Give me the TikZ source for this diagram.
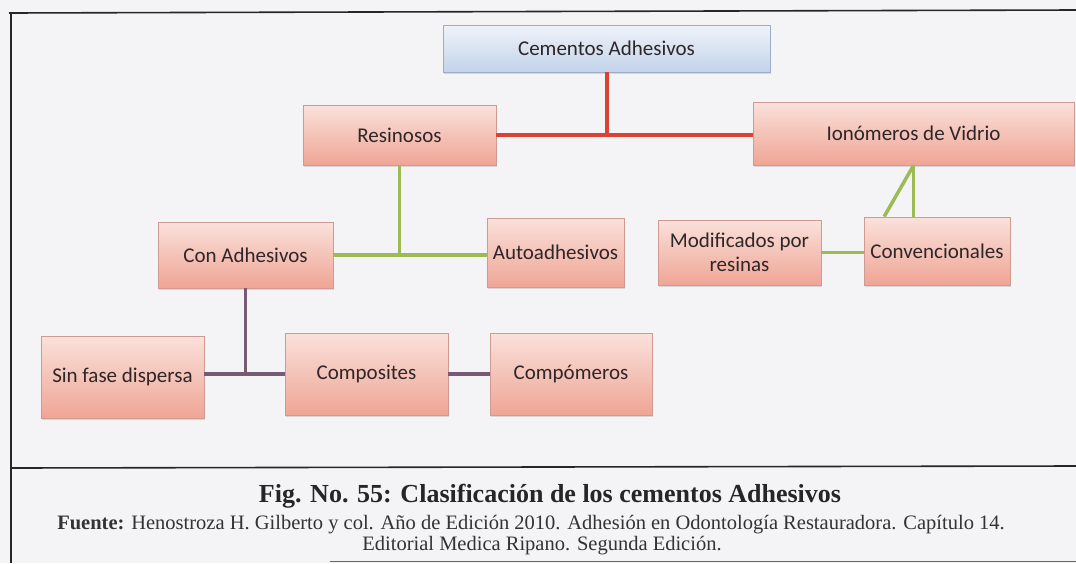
\documentclass[tikz,border=0pt]{standalone}
\usepackage{fontspec}
\setmainfont{Liberation Serif}
\newfontfamily\cajafont{Carlito}
\usetikzlibrary{calc, shadows, positioning}

\definecolor{rosaA}{HTML}{FAE1DB}
\definecolor{rosaB}{HTML}{EFA595}
\definecolor{rosaBorde}{HTML}{CF9A92}
\definecolor{azulA}{HTML}{EFF3F9}
\definecolor{azulB}{HTML}{C3D3EA}
\definecolor{azulBorde}{HTML}{9CAEC6}
\definecolor{rojoLinea}{HTML}{DA4236}
\definecolor{verdeLinea}{HTML}{9DBB55}
\definecolor{moradoLinea}{HTML}{785A72}
\definecolor{fondo}{HTML}{F4F4F7}
\definecolor{texto}{HTML}{2E2628}

\tikzset{
  caja/.style = {draw=rosaBorde, line width=0.8pt, top color=rosaA, bottom color=rosaB,
    text=texto, inner sep=2pt, align=center,
    font=\cajafont\fontsize{21}{24}\selectfont,
    drop shadow={opacity=0.25, shadow xshift=1pt, shadow yshift=-1.5pt}},
  raiz/.style = {caja, draw=azulBorde, top color=azulA, bottom color=azulB},
  rojo/.style = {draw=rojoLinea, line width=4pt},
  verde/.style = {draw=verdeLinea, line width=3.5pt},
  morado/.style = {draw=moradoLinea, line width=3.5pt},
  marco/.style = {draw=black!85, line width=1.6pt}
}

\begin{document}
\begin{tikzpicture}[x=1pt, y=-1pt]
\useasboundingbox[fill=fondo] (0,0) rectangle (1076,563);

% marco de la figura
\draw[marco] (9,13) -- (1076,10);
\draw[marco] (11,12) -- (11,563);
\draw[marco] (11,468) -- (1076,466);
\draw[marco, line width=1pt, black!60] (330,561) -- (1076,561);

% cajas
\node[raiz, minimum width=327pt, minimum height=47pt] (cem) at (606.5,48.5) {Cementos Adhesivos};
\node[caja, minimum width=193pt, minimum height=60pt] (res) at (399.5,135) {Resinosos};
\node[caja, minimum width=321pt, minimum height=63pt] (ion) at (913.5,133.5) {Ionómeros de Vidrio};
\node[caja, minimum width=175pt, minimum height=66pt] (con) at (245.5,255) {Con Adhesivos};
\node[caja, minimum width=137pt, minimum height=69pt] (auto) at (555.5,252.5) {Autoadhesivos};
\node[caja, minimum width=163pt, minimum height=65pt] (mod) at (739.5,252.5) {Modificados por\\resinas};
\node[caja, minimum width=146pt, minimum height=68pt] (conv) at (937,251) {Convencionales};
\node[caja, minimum width=163pt, minimum height=82pt] (sin) at (122.5,377) {Sin fase dispersa};
\node[caja, minimum width=163pt, minimum height=82pt] (comp) at (366.5,374) {Composites};
\node[caja, minimum width=162pt, minimum height=82pt] (compo) at (571,374) {Compómeros};

\coordinate (convtop) at ($(conv.north west)!0.14!(conv.north east)$);

% conectores
\draw[rojo] (cem.south) -- (cem.south |- res.east);
\draw[rojo] (res.east) -- (res.east -| ion.west);
\draw[verde] (res.south) -- (res.south |- con.east);
\draw[verde] (con.east) -- (con.east -| auto.west);
\draw[verde] (ion.south) -- (ion.south |- conv.north);
\draw[verde] (ion.south) -- (convtop);
\draw[verde] (mod.east) -- (mod.east -| conv.west);
\draw[morado] (con.south) -- (con.south |- comp.west);
\draw[morado] (sin.east |- comp.west) -- (comp.west);
\draw[morado] (comp.east) -- (comp.east -| compo.west);

% pie de figura
\node[anchor=base, font=\bfseries\fontsize{26}{29}\selectfont, text=black!85] (titulo) at (550,502)
  {Fig. No. 55: Clasificación de los cementos Adhesivos};
\node[anchor=base, font=\fontsize{20.5}{23}\selectfont, text=black!80] (fuente) at (531,529)
  {\textbf{Fuente:} Henostroza H. Gilberto y col. Año de Edición 2010. Adhesión en Odontología Restauradora. Capítulo 14.};
\node[anchor=base, font=\fontsize{20.5}{23}\selectfont, text=black!80] (editorial) at (542,550)
  {Editorial Medica Ripano. Segunda Edición.};
\end{tikzpicture}
\end{document}
